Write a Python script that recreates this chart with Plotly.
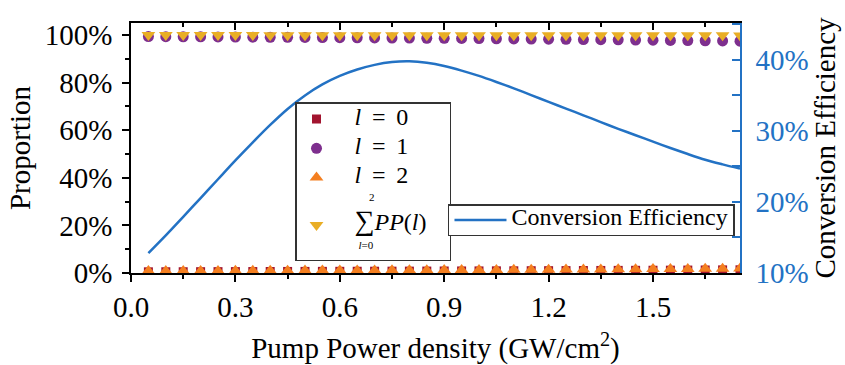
import plotly.graph_objects as go

# ---- data ----
pump = [0.05, 0.10, 0.15, 0.20, 0.25, 0.30, 0.35, 0.40, 0.45, 0.50,
        0.55, 0.60, 0.65, 0.70, 0.75, 0.80, 0.85, 0.90, 0.95, 1.00,
        1.05, 1.10, 1.15, 1.20, 1.25, 1.30, 1.35, 1.40, 1.45, 1.50,
        1.55, 1.60, 1.65, 1.70, 1.75]

pp_l0 = [0.50, 0.52, 0.53, 0.55, 0.57, 0.59, 0.61, 0.63, 0.65, 0.67,
         0.69, 0.71, 0.73, 0.75, 0.77, 0.79, 0.81, 0.84, 0.86, 0.88,
         0.91, 0.93, 0.96, 0.98, 1.01, 1.04, 1.07, 1.10, 1.13, 1.16,
         1.19, 1.23, 1.27, 1.31, 1.35]

pp_l1 = [99.30, 99.26, 99.22, 99.18, 99.14, 99.10, 99.06, 99.02, 98.98, 98.94,
         98.90, 98.85, 98.80, 98.75, 98.70, 98.65, 98.60, 98.55, 98.50, 98.44,
         98.38, 98.32, 98.26, 98.20, 98.13, 98.06, 97.99, 97.92, 97.85, 97.78,
         97.70, 97.62, 97.54, 97.46, 97.38]

pp_l2 = [0.80, 0.82, 0.84, 0.86, 0.88, 0.91, 0.93, 0.95, 0.98, 1.00,
         1.03, 1.05, 1.08, 1.10, 1.13, 1.16, 1.19, 1.22, 1.25, 1.28,
         1.31, 1.34, 1.38, 1.41, 1.45, 1.48, 1.52, 1.56, 1.60, 1.64,
         1.68, 1.72, 1.77, 1.81, 1.86]

pp_sum = [99.92, 99.92, 99.92, 99.91, 99.91, 99.91, 99.91, 99.90, 99.90, 99.90,
          99.90, 99.89, 99.89, 99.89, 99.89, 99.88, 99.88, 99.88, 99.87, 99.87,
          99.87, 99.86, 99.86, 99.86, 99.85, 99.85, 99.84, 99.84, 99.83, 99.83,
          99.82, 99.82, 99.81, 99.81, 99.80]

conv_eff = [12.8, 15.3, 17.9, 20.55, 23.2, 25.85, 28.4, 30.85, 33.1, 35.0,
            36.55, 37.75, 38.65, 39.3, 39.7, 39.8, 39.6, 39.15, 38.5, 37.75,
            36.9, 36.0, 35.05, 34.1, 33.15, 32.2, 31.25, 30.3, 29.4, 28.5,
            27.6, 26.75, 25.95, 25.3, 24.7]

x_ticks = [0.0, 0.3, 0.6, 0.9, 1.2, 1.5]
left_ticks = [0, 20, 40, 60, 80, 100]
right_ticks = [10, 20, 30, 40]

# ---- styling ----
FONT = "Liberation Serif"
BLUE = "#2372c4"
C_L0 = "#a2142f"
C_L1 = "#7e2f8e"
C_L2 = "#f47f20"
C_SUM = "#e9ae25"
NB = "\u00a0"


def sp(size, txt):
    return f"<span style='font-family:{FONT};font-size:{size}px'>{txt}</span>"


def lab(n):
    return sp(24, NB * 3 + "<i>l</i>" + NB + "\u2009=" + NB + "\u2009" + str(n) + NB * 6)


sum_label = (sp(26, NB * 5 + "<sup>" + sp(11, "2") + "</sup>") + "<br>"
             + sp(24, NB * 3) + sp(28, "\u2211") + sp(24, "<i>PP</i>(<i>l</i>)" + NB * 2) + "<br>"
             + sp(11, NB * 8 + "<i>l</i>=0"))

fig = go.Figure()

fig.add_trace(go.Scatter(x=pump, y=pp_l0, mode="markers", name=lab(0),
                         marker=dict(symbol="square", size=9, color=C_L0),
                         legend="legend", legendgroup="a"))
fig.add_trace(go.Scatter(x=pump, y=pp_l1, mode="markers", name=lab(1),
                         marker=dict(symbol="circle", size=11, color=C_L1),
                         legend="legend", legendgroup="b"))
fig.add_trace(go.Scatter(x=pump, y=pp_l2, mode="markers", name=lab(2),
                         marker=dict(symbol="triangle-up", size=12, color=C_L2),
                         legend="legend", legendgroup="c"))
fig.add_trace(go.Scatter(x=pump, y=pp_sum, mode="markers", name=sum_label,
                         marker=dict(symbol="triangle-down", size=12, color=C_SUM),
                         legend="legend", legendgroup="d"))
fig.add_trace(go.Scatter(x=pump, y=conv_eff, mode="lines",
                         name=sp(24, "Conversion Efficiency"),
                         line=dict(color=BLUE, width=2.5, shape="spline", smoothing=0.8),
                         xaxis="x2", yaxis="y2", legend="legend2"))

axis_common = dict(showgrid=False, zeroline=False, showline=True, linewidth=1.5,
                   automargin=False)
tf = dict(family=FONT, size=29, color="black")

fig.update_layout(
    width=845, height=365,
    margin=dict(l=131, r=105, t=23, b=92),
    paper_bgcolor="white", plot_bgcolor="white",
    font=dict(family=FONT, size=28, color="black"),
    xaxis=dict(**axis_common, range=[0, 1.75], linecolor="black",
               tickmode="array", tickvals=x_ticks,
               ticktext=[f"{v:.1f}" for v in x_ticks],
               ticks="outside", ticklen=7, tickwidth=1.5, tickcolor="black",
               minor=dict(dtick=0.15, tick0=0, ticks="outside", ticklen=4,
                          tickwidth=1.5, tickcolor="black"),
               tickfont=tf,
               title=dict(text="Pump Power density (GW/cm<sup>2</sup>)",
                          font=tf, standoff=16)),
    xaxis2=dict(**axis_common, range=[0, 1.75], matches="x", overlaying="x",
                side="top", anchor="y2", linecolor="black",
                tickmode="array", tickvals=x_ticks, showticklabels=False,
                ticks="inside", ticklen=7, tickwidth=1.5, tickcolor="black",
                minor=dict(dtick=0.15, tick0=0, ticks="inside", ticklen=4,
                           tickwidth=1.5, tickcolor="black")),
    yaxis=dict(**axis_common, range=[0, 105], linecolor="black",
               tickmode="array", tickvals=left_ticks,
               ticktext=[f"{v}%" for v in left_ticks],
               ticks="outside", ticklen=7, tickwidth=1.5, tickcolor="black",
               minor=dict(dtick=10, tick0=0, ticks="outside", ticklen=4,
                          tickwidth=1.5, tickcolor="black"),
               tickfont=tf, ticklabelstandoff=4,
               title=dict(text="Proportion", font=tf, standoff=6)),
    yaxis2=dict(**axis_common, range=[10, 45.2], overlaying="y", side="right",
                anchor="x2", linecolor=BLUE,
                tickmode="array", tickvals=right_ticks,
                ticktext=[f"{v}%" for v in right_ticks],
                ticks="inside", ticklen=8, tickwidth=1.5, tickcolor=BLUE,
                minor=dict(dtick=5, tick0=0, ticks="inside", ticklen=8,
                           tickwidth=1.5, tickcolor=BLUE),
                tickfont=dict(family=FONT, size=29, color=BLUE), ticklabelstandoff=8,
                title=dict(text="Conversion Efficiency", font=tf, standoff=6)),
    legend=dict(x=0.2693, y=0.684, xanchor="left", yanchor="top",
                bgcolor="white", bordercolor="#333333", borderwidth=1.5,
                font=dict(family=FONT, size=14, color="black"),
                tracegroupgap=8, itemwidth=30),
    legend2=dict(x=0.5205, y=0.276, xanchor="left", yanchor="top",
                 bgcolor="white", bordercolor="#333333", borderwidth=1.5,
                 font=dict(family=FONT, size=12, color="black"),
                 itemwidth=52),
    showlegend=True,
)

fig.write_html("out.html")
